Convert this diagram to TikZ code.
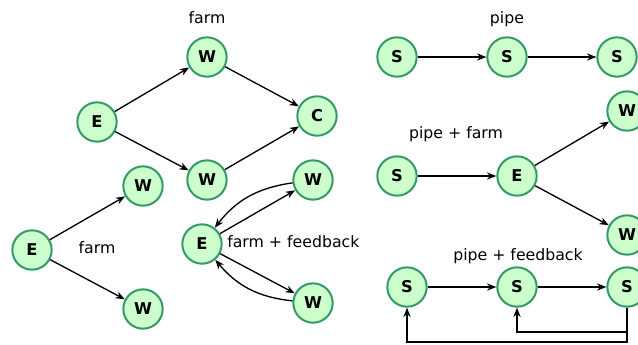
\documentclass[tikz,border=0pt]{standalone}
\usepackage{fontspec}
\setmainfont{DejaVu Sans}
\usetikzlibrary{arrows.meta}
\definecolor{nodefill}{RGB}{204,255,204}
\definecolor{nodeline}{RGB}{51,153,102}
\begin{document}
\begin{tikzpicture}[x=0.75pt,y=-0.75pt,
  proc/.style={circle, draw=nodeline, fill=nodefill, line width=1.5pt, minimum size=29.5pt, inner sep=0pt, font=\fontsize{12.2}{14}\selectfont\bfseries},
  lbl/.style={font=\fontsize{11.8}{14}\selectfont, inner sep=1.5pt},
  arr/.style={-{Stealth[length=7pt,width=5.4pt]}, line width=1pt}]
  \useasboundingbox (0,0) rectangle (638,344);
  % farm
  \node[lbl] (tfarm) at (207,18) {farm};
  \node[proc] (te) at (97,122) {E};
  \node[proc] (tw1) at (207,57) {W};
  \node[proc] (tw2) at (207,180) {W};
  \node[proc] (tc) at (317,116) {C};
  \draw[arr] (te) -- (tw1);
  \draw[arr] (te) -- (tw2);
  \draw[arr] (tw1) -- (tc);
  \draw[arr] (tw2) -- (tc);
  % farm, small
  \node[lbl] (lfarm) at (97,248) {farm};
  \node[proc] (le) at (32,250) {E};
  \node[proc] (lw1) at (143,186) {W};
  \node[proc] (lw2) at (143,309) {W};
  \draw[arr] (le) -- (lw1);
  \draw[arr] (le) -- (lw2);
  % farm + feedback
  \node[lbl, anchor=west] (ffb) at (225,242) {farm + feedback};
  \node[proc] (fe) at (202,244) {E};
  \node[proc] (fw1) at (313,180) {W};
  \node[proc] (fw2) at (313,303) {W};
  \draw[arr] (fe) -- (fw1);
  \draw[arr] (fe) -- (fw2);
  \draw[arr] (fw1) to[bend right=22] (fe);
  \draw[arr] (fw2) to[bend left=22] (fe);
  % pipe
  \node[lbl] (tpipe) at (507,19) {pipe};
  \node[proc] (ps1) at (397,57) {S};
  \node[proc] (ps2) at (507,57) {S};
  \node[proc] (ps3) at (617,57) {S};
  \draw[arr] (ps1) -- (ps2);
  \draw[arr] (ps2) -- (ps3);
  % pipe + farm
  \node[lbl] (pfarm) at (456,134) {pipe + farm};
  \node[proc] (qs) at (397,176) {S};
  \node[proc] (qe) at (517,176) {E};
  \node[proc] (qw1) at (627,111) {W};
  \node[proc] (qw2) at (627,235) {W};
  \draw[arr] (qs) -- (qe);
  \draw[arr] (qe) -- (qw1);
  \draw[arr] (qe) -- (qw2);
  % pipe + feedback
  \node[lbl] (pfb) at (518,256) {pipe + feedback};
  \node[proc] (rs1) at (407,287) {S};
  \node[proc] (rs2) at (517,287) {S};
  \node[proc] (rs3) at (627,287) {S};
  \coordinate (rb2) at (517,332);
  \coordinate (rb1) at (407,342);
  \draw[arr] (rs1) -- (rs2);
  \draw[arr] (rs2) -- (rs3);
  \draw[arr] (rs3.south) |- (rb2) -- (rs2.south);
  \draw[arr] (rs3.south) |- (rb1) -- (rs1.south);
\end{tikzpicture}
\end{document}
